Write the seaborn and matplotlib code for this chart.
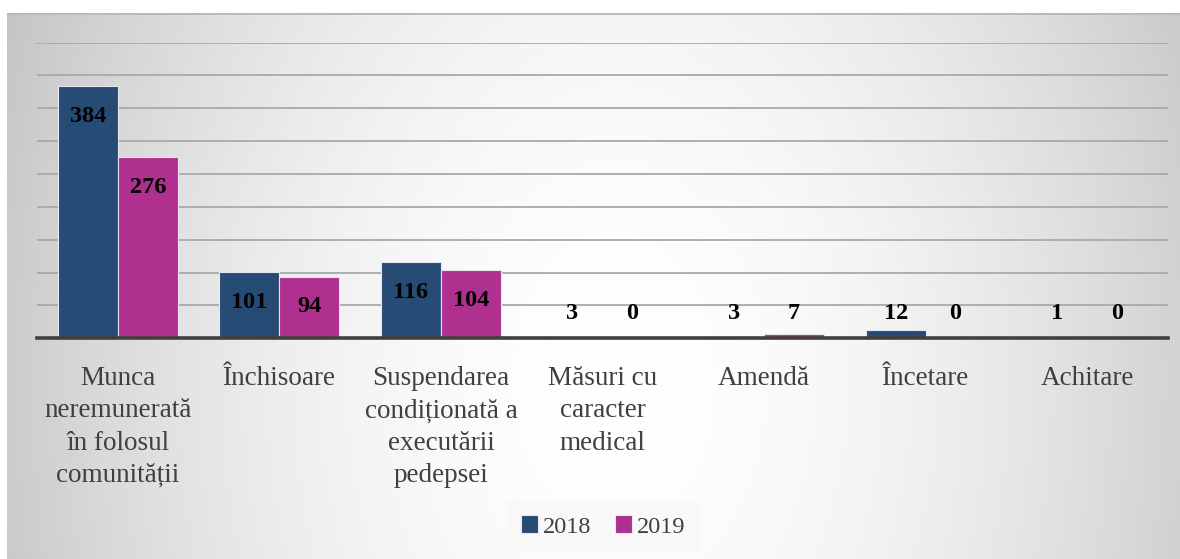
import matplotlib
matplotlib.use('Agg')
import matplotlib.pyplot as plt
import seaborn as sns
import numpy as np
import pandas as pd

categories = ["Munca\nneremunerată\nîn folosul\ncomunității", "Închisoare",
              "Suspendarea\ncondiționată a\nexecutării\npedepsei",
              "Măsuri cu\ncaracter\nmedical", "Amendă", "Încetare", "Achitare"]
years = ["2018", "2019"]
values_2018 = [384, 101, 116, 3, 3, 12, 1]
values_2019 = [276, 94, 104, 0, 7, 0, 0]
colors = ["#264B74", "#B0308F"]

df = pd.DataFrame({
    "cat": categories * 2,
    "year": [years[0]] * len(categories) + [years[1]] * len(categories),
    "value": values_2018 + values_2019,
})

sns.set_theme(style="white")
plt.rcParams['font.family'] = ['Liberation Serif', 'DejaVu Serif']

W, H = 1180, 559
fig = plt.figure(figsize=(W / 100, H / 100), dpi=100)
fig.patch.set_facecolor('white')

# background radial gradient panel
bg = fig.add_axes([7 / W, 0, 1 - 7 / W, (H - 13) / H], zorder=0)
ny, nx = 280, 590
yy, xx = np.mgrid[0:ny, 0:nx]
px = 7 + xx / (nx - 1) * (W - 7)
py = 13 + yy / (ny - 1) * (H - 13)
d = np.sqrt(((px - 615) / 610) ** 2 + ((py - 380) / 900) ** 2)
g = 1 - 0.2 * np.clip(d, 0, 1.3) ** 1.8
img = np.dstack([g, g, g])
bg.imshow(img, aspect='auto', extent=[0, 1, 1, 0], interpolation='bilinear')
bg.axhline(0, color='#b8b8b8', lw=2)
bg.set_xlim(0, 1)
bg.set_ylim(1, 0)
bg.axis('off')

ax = fig.add_axes([37 / W, (H - 338.3) / H, (1168 - 37) / W, (338.3 - 42.6) / H], zorder=1)
ax.patch.set_alpha(0)

sns.barplot(data=df, x="cat", y="value", hue="year", palette=colors, width=0.742,
            ax=ax, edgecolor='#e6e6ee', linewidth=0.8, saturation=1)

ax.set_ylim(0, 450)
ax.set_yticks(np.arange(0, 451, 50))
ax.set_yticklabels([])
ax.tick_params(axis='y', length=0)
ax.yaxis.grid(True, color='#a9a9a9', lw=1.3)
ax.set_axisbelow(True)
for s in ['left', 'right', 'top']:
    ax.spines[s].set_visible(False)
ax.spines['bottom'].set_color('#404040')
ax.spines['bottom'].set_linewidth(2.6)
ax.set_xlabel('')
ax.set_ylabel('')
ax.tick_params(axis='x', length=0, pad=20, labelsize=19.5, labelcolor='#404040')
for lab in ax.get_xticklabels():
    lab.set_linespacing(1.38)
    lab.set_va('top')

for cont in ax.containers:
    for bar in cont:
        v = bar.get_height()
        y = max(v - 46, 37)
        ax.text(bar.get_x() + bar.get_width() / 2, y, f"{int(round(v))}",
                ha='center', va='center', fontsize=17.5, fontweight='bold', color='black')

handles, labels = ax.get_legend_handles_labels()
if ax.get_legend() is not None:
    ax.get_legend().remove()
leg = fig.legend(handles, labels, loc='center', bbox_to_anchor=(603 / W, (H - 526.5) / H),
                 ncol=2, frameon=True, facecolor='#f8f8f8', edgecolor='none', fontsize=17.5,
                 handlelength=0.7, handleheight=0.7, handletextpad=0.2, columnspacing=1.0,
                 borderpad=0.6, fancybox=False)
for t in leg.get_texts():
    t.set_color('#404040')

fig.savefig('out.png', dpi=100)
